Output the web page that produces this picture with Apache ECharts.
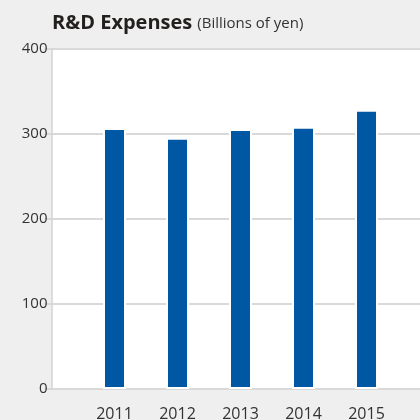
<!DOCTYPE html>
<html><head><meta charset="utf-8">
<script src="https://cdn.jsdelivr.net/npm/echarts@6/dist/echarts.min.js"></script>
<style>html,body{margin:0;padding:0;background:#eeefee;}#c{width:420px;height:420px;}</style>
</head><body><div id="c"></div>
<script>
const years = [2011, 2012, 2013, 2014, 2015];
const values = [307, 295.5, 306, 308.5, 328.5];
const yTicks = [0, 100, 200, 300, 400];
const titleMain = 'R&D Expenses';
const titleSub = '(Billions of yen)';

const chart = echarts.init(document.getElementById('c'), null, {renderer: 'canvas'});
chart.setOption({
  backgroundColor: '#eeefee',
  animation: false,
  title: {
    text: '{a|' + titleMain + '} {b|' + titleSub + '}',
    left: 47, top: 8,
    textStyle: {
      rich: {
        a: {fontFamily: 'Open Sans', fontWeight: 'bold', fontSize: 20, color: '#231f1f'},
        b: {fontFamily: 'Open Sans', fontWeight: 'normal', fontSize: 15, color: '#333333', padding: [2,0,0,0]}
      }
    }
  },
  grid: {left: 51.5, top: 49, width: 378, height: 340, outerBoundsMode: 'none', containLabel: false,
         show: true, backgroundColor: '#ffffff', borderWidth: 0},
  xAxis: {
    type: 'value', min: 2010, max: 2016, interval: 1,
    axisLine: {show: false}, axisTick: {show: false}, splitLine: {show: false},
    axisLabel: {
      margin: 17, fontFamily: 'Open Sans', fontSize: 16, color: '#333333',
      formatter: v => years.indexOf(v) >= 0 ? String(v) : ''
    }
  },
  yAxis: {
    type: 'value', min: 0, max: 400, interval: 100,
    axisLine: {show: true, lineStyle: {color: '#d2d2d2', width: 1.5}},
    axisTick: {show: true, length: 7, lineStyle: {color: '#d2d2d2', width: 1.5}},
    splitLine: {show: true, lineStyle: {color: '#d9d9d9', width: 2}},
    axisLabel: {margin: 4, fontFamily: 'Open Sans', fontSize: 15, color: '#333333',
      formatter: v => yTicks.indexOf(v) >= 0 ? String(v) : ''}
  },
  series: [{
    type: 'bar',
    data: years.map((y, i) => [y, values[i]]),
    barWidth: 23,
    itemStyle: {color: '#0057a4', borderColor: '#ffffff', borderWidth: 2}
  }]
});
</script></body></html>
